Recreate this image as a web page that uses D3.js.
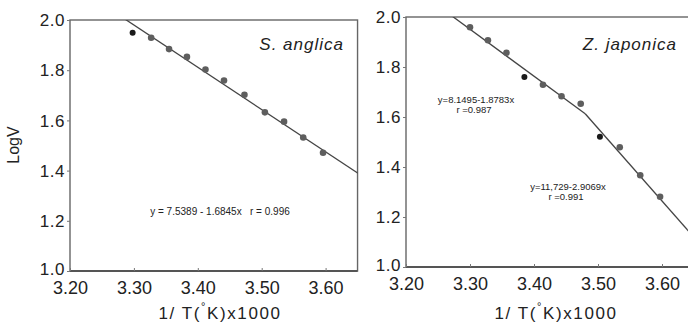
<!DOCTYPE html>
<html>
<head>
<meta charset="utf-8">
<script src="https://d3js.org/d3.v7.min.js"></script>
<style>
  body { margin: 0; background: #fff; }
  svg { display: block; font-family: "Liberation Sans", Arial, sans-serif; }
</style>
</head>
<body>
<svg id="chart" width="688" height="326"></svg>
<script>
// data
var xTicks = [3.20, 3.30, 3.40, 3.50, 3.60];
var yTicks = [1.0, 1.2, 1.4, 1.6, 1.8, 2.0];

var anglicaX = [3.298, 3.327, 3.355, 3.383, 3.412, 3.441, 3.473, 3.505, 3.535, 3.565, 3.596];
var anglicaY = [1.949, 1.929, 1.884, 1.853, 1.803, 1.759, 1.702, 1.632, 1.595, 1.532, 1.471];
var anglicaFit = [{ a: 7.5389, b: 1.6845, from: 3.20, to: 3.66 }];

var japonicaX = [3.300, 3.328, 3.357, 3.385, 3.414, 3.443, 3.473, 3.503, 3.534, 3.566, 3.597];
var japonicaY = [1.959, 1.907, 1.857, 1.760, 1.729, 1.683, 1.653, 1.521, 1.479, 1.367, 1.281];
var japonicaFit = [
  { a: 8.1495, b: 1.8783, from: 3.20, to: 3.48 },
  { a: 11.729, b: 2.9069, from: 3.48, to: 3.66 }
];

var svg = d3.select("#chart");

function panel(opt) {
  var x = d3.scaleLinear().domain([3.20, 3.65]).range([opt.left, opt.left + 0.45 * opt.unit]);
  var y = d3.scaleLinear().domain([1.0, 2.0]).range([opt.bottom, opt.top]);
  var g = svg.append("g");

  g.append("clipPath").attr("id", opt.id)
    .append("rect")
    .attr("x", x(3.20)).attr("y", y(2.0))
    .attr("width", x(3.65) - x(3.20)).attr("height", y(1.0) - y(2.0));

  // frame
  g.append("rect")
    .attr("x", x(3.20)).attr("y", y(2.0))
    .attr("width", x(3.65) - x(3.20)).attr("height", y(1.0) - y(2.0))
    .attr("fill", "none").attr("stroke", "#666").attr("stroke-width", 1.4);
  g.append("line")
    .attr("x1", x(3.20)).attr("x2", x(3.65))
    .attr("y1", y(1.0)).attr("y2", y(1.0))
    .attr("stroke", "#555").attr("stroke-width", 2);

  // y axis
  var ya = g.append("g").attr("transform", "translate(" + x(3.20) + ",0)")
    .call(d3.axisLeft(y).tickValues(yTicks).tickFormat(d3.format(".1f")).tickSize(3).tickPadding(2));
  ya.select(".domain").remove();
  ya.selectAll("line").attr("stroke", "#777");
  ya.selectAll("text").attr("font-size", 17).attr("fill", "#222")
    .attr("letter-spacing", 0.5).attr("dy", function (d) { return d === 1.0 ? "0.2em" : "0.34em"; });

  // x axis
  var xa = g.append("g").attr("transform", "translate(0," + y(1.0) + ")")
    .call(d3.axisBottom(x).tickValues(xTicks).tickFormat(d3.format(".2f")).tickSize(-3).tickPadding(10));
  xa.select(".domain").remove();
  xa.selectAll("line").attr("stroke", "#777");
  xa.selectAll("text").attr("font-size", 18).attr("fill", "#222").attr("dy", "0.7em");

  // x title
  var t = g.append("text")
    .attr("x", x(3.20) + 150).attr("y", 319)
    .attr("text-anchor", "middle").attr("font-size", 17).attr("fill", "#222")
    .attr("letter-spacing", 1.6);
  t.append("tspan").text("1/ T(");
  t.append("tspan").attr("font-size", 11).attr("dy", -9).text("°");
  t.append("tspan").attr("dy", 9).text("K)x1000");

  // fitted lines
  var line = d3.line().x(function (d) { return x(d[0]); }).y(function (d) { return y(d[1]); });
  g.append("g").attr("clip-path", "url(#" + opt.id + ")")
    .selectAll("path").data(opt.fits).join("path")
    .attr("d", function (f) { return line([[f.from, f.a - f.b * f.from], [f.to, f.a - f.b * f.to]]); })
    .attr("fill", "none").attr("stroke", "#444").attr("stroke-width", 1.3);

  // points
  g.selectAll("circle").data(opt.xs).join("circle")
    .attr("cx", function (d) { return x(d); })
    .attr("cy", function (d, i) { return y(opt.ys[i]); })
    .attr("r", function (d, i) { return opt.dark.indexOf(i) >= 0 ? 3 : 3.3; })
    .attr("fill", function (d, i) { return opt.dark.indexOf(i) >= 0 ? "#1a1a1a" : "#5e5e5e"; });

  // species name
  g.append("text")
    .attr("x", opt.nameX).attr("y", 50)
    .attr("text-anchor", "end").attr("font-size", 17).attr("font-style", "italic")
    .attr("letter-spacing", 1).attr("fill", "#222")
    .text(opt.name);

  opt.notes.forEach(function (n) {
    g.append("text")
      .attr("x", n.x).attr("y", n.y)
      .attr("text-anchor", "middle").attr("font-size", n.size).attr("fill", "#222")
      .attr("xml:space", "preserve")
      .text(n.text);
  });
}

panel({
  id: "clipA", left: 70, unit: 639, top: 20, bottom: 271,
  xs: anglicaX, ys: anglicaY, fits: anglicaFit, dark: [0],
  name: "S. anglica", nameX: 344,
  notes: [{ x: 220, y: 215, size: 10, text: "y = 7.5389 - 1.6845x   r = 0.996" }]
});

panel({
  id: "clipB", left: 406, unit: 640, top: 17, bottom: 267,
  xs: japonicaX, ys: japonicaY, fits: japonicaFit, dark: [3, 7],
  name: "Z. japonica", nameX: 677,
  notes: [
    { x: 476, y: 103, size: 9.5, text: "y=8.1495-1.8783x" },
    { x: 474, y: 113, size: 9.5, text: "r =0.987" },
    { x: 568, y: 190, size: 9.5, text: "y=11,729-2.9069x" },
    { x: 566, y: 200, size: 9.5, text: "r =0.991" }
  ]
});

// y title
svg.append("text")
  .attr("transform", "translate(19,145) rotate(-90)")
  .attr("text-anchor", "middle").attr("font-size", 16).attr("fill", "#222")
  .text("LogV");
</script>
</body>
</html>
